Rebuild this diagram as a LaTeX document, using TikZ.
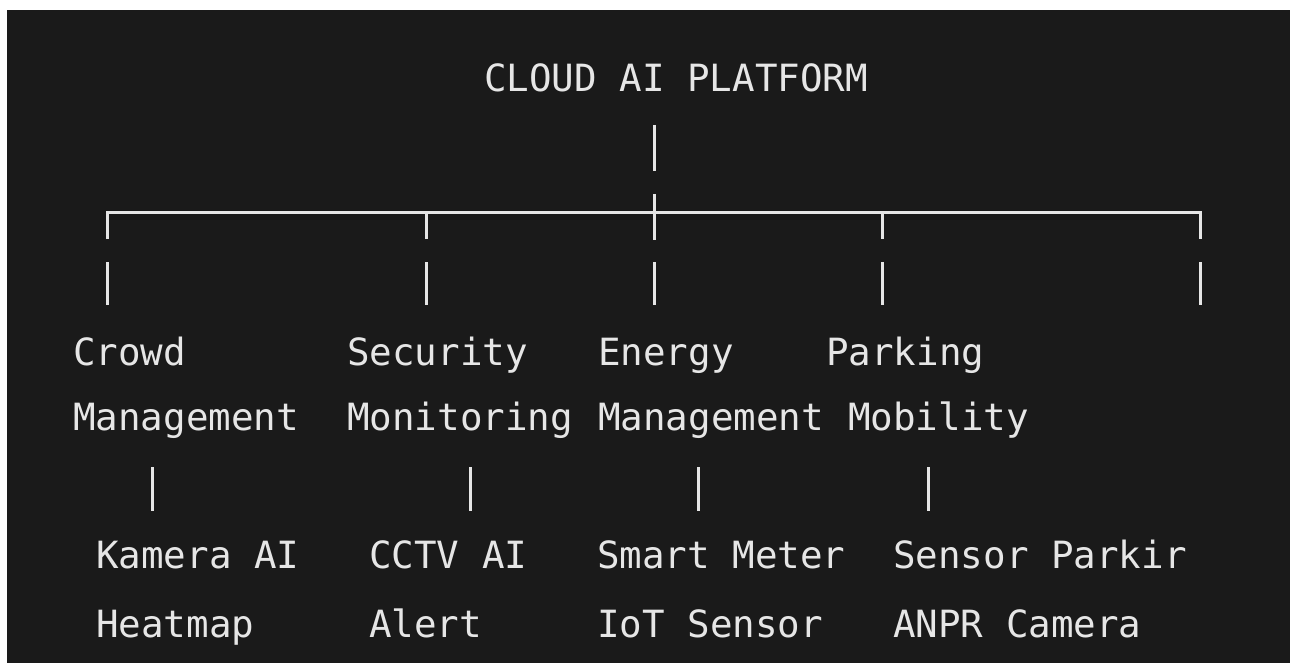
\documentclass[tikz,border=0pt]{standalone}
\usepackage{fontspec}
\setmonofont{DejaVu Sans Mono}
\definecolor{bg}{HTML}{1A1A1A}
\definecolor{fg}{HTML}{E6E6E6}
\begin{document}
\begin{tikzpicture}[x=1pt,y=-1pt,
  lbl/.style={anchor=base west,inner sep=0pt,text=fg,font=\ttfamily\fontsize{37.5}{40}\selectfont},
  bar/.style={draw=fg,line width=3pt}]
\useasboundingbox (0,0) rectangle (1290,663);
\fill[white] (0,0) rectangle (1290,663);
\fill[bg] (7,10) rectangle (1290,663);
% texts
\node[lbl] (root) at (484,92) {CLOUD AI PLATFORM};
\node[lbl] (c1) at (73,365) {Crowd};
\node[lbl] (c2) at (73,430) {Management};
\node[lbl] (s1) at (347,365) {Security};
\node[lbl] (s2) at (347,430) {Monitoring};
\node[lbl] (e1) at (598,365) {Energy};
\node[lbl] (e2) at (598,430) {Management};
\node[lbl] (p1) at (826,365) {Parking};
\node[lbl] (p2) at (848,430) {Mobility};
\node[lbl] (k1) at (96,568) {Kamera AI};
\node[lbl] (k2) at (96,637) {Heatmap};
\node[lbl] (t1) at (369,568) {CCTV AI};
\node[lbl] (t2) at (369,637) {Alert};
\node[lbl] (m1) at (597,568) {Smart Meter};
\node[lbl] (m2) at (597,637) {IoT Sensor};
\node[lbl] (n1) at (893,568) {Sensor Parkir};
\node[lbl] (n2) at (893,637) {ANPR Camera};
% top bar
\coordinate (ta) at (654,125); \coordinate (tb) at (654,171);
\draw[bar] (ta) -- (tb);
% junction
\coordinate (hl) at (107,213); \coordinate (hr) at (1200,213);
\coordinate (jt) at (654,194); \coordinate (jb) at (654,240);
\draw[bar] (107,239) -- (hl) -- (hr) -- (1200,239);
\draw[bar] (426,213) -- (426,239);
\draw[bar] (882,213) -- (882,239);
\draw[bar] (jt) -- (jb);
% lower bars
\foreach \x in {107,426,654,882,1200} \draw[bar] (\x,262) -- (\x,305);
% third row bars
\foreach \x in {152,470,698,928} \draw[bar] (\x,467) -- (\x,511);
\end{tikzpicture}
\end{document}
